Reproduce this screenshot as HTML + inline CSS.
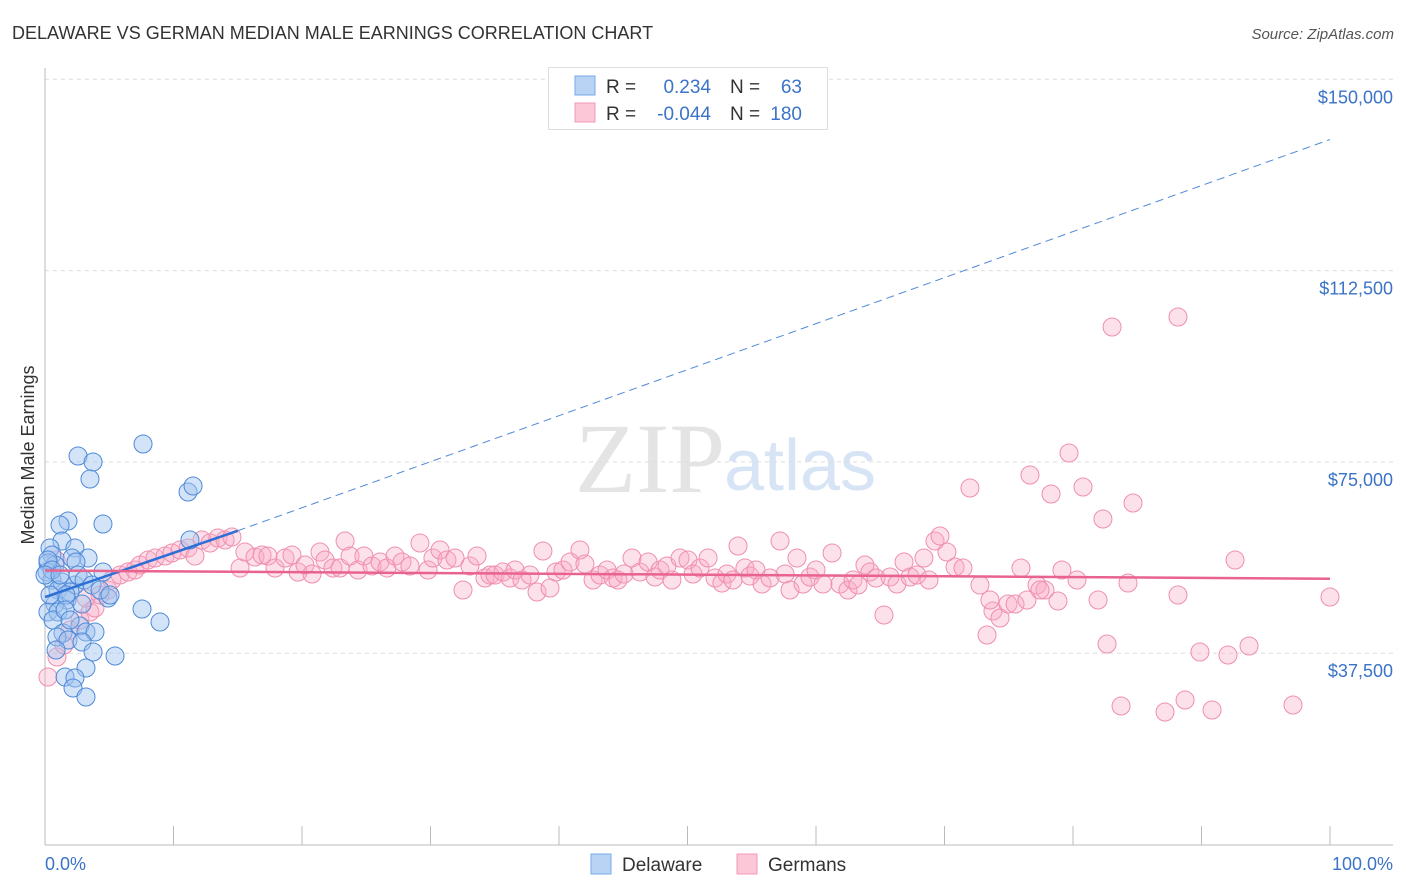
<!DOCTYPE html>
<html><head><meta charset="utf-8"><style>
body{margin:0;background:#fff;font-family:"Liberation Sans",sans-serif;}
svg{display:block}
</style></head><body>
<svg id="chart" width="1406" height="892" xmlns="http://www.w3.org/2000/svg">
<text x="12" y="39" font-size="18" fill="#333">DELAWARE VS GERMAN MEDIAN MALE EARNINGS CORRELATION CHART</text>
<text x="1394" y="39" font-size="15" fill="#555" font-style="italic" text-anchor="end">Source: ZipAtlas.com</text>
<text x="650" y="492" font-size="100" fill="#e4e4e4" font-family="Liberation Serif,serif" text-anchor="middle">ZIP</text>
<text x="800" y="490" font-size="72" fill="#d6e4f5" text-anchor="middle">atlas</text>
<g id="grid"></g>
<g id="axes"></g>
<g id="pts"></g>
<g id="trends"></g>
<text transform="translate(34,455) rotate(-90)" font-size="18" fill="#333" text-anchor="middle">Median Male Earnings</text>
<text x="45" y="870" font-size="18" fill="#3b73c8">0.0%</text>
<text x="1393" y="870" font-size="18" fill="#3b73c8" text-anchor="end">100.0%</text>
<g>
<rect x="548.5" y="67.5" width="279" height="62" fill="#fff" stroke="#ddd"/>
<rect x="575" y="76" width="20" height="19" fill="#b9d3f5" stroke="#7aaae8"/>
<rect x="575" y="103" width="20" height="19" fill="#fcc7d6" stroke="#f09ab5"/>
<text x="606" y="93" font-size="19" fill="#333">R =</text>
<text x="711" y="93" font-size="19" fill="#3b73c8" text-anchor="end">0.234</text>
<text x="730" y="93" font-size="19" fill="#333">N =</text>
<text x="802" y="93" font-size="19" fill="#3b73c8" text-anchor="end">63</text>
<text x="606" y="120" font-size="19" fill="#333">R =</text>
<text x="711" y="120" font-size="19" fill="#3b73c8" text-anchor="end">-0.044</text>
<text x="730" y="120" font-size="19" fill="#333">N =</text>
<text x="802" y="120" font-size="19" fill="#3b73c8" text-anchor="end">180</text>
</g>
<g>
<rect x="591" y="854" width="20" height="20" fill="#b9d3f5" stroke="#7aaae8"/>
<text x="622" y="871" font-size="19" fill="#333">Delaware</text>
<rect x="737" y="854" width="20" height="20" fill="#fcc7d6" stroke="#f09ab5"/>
<text x="768" y="871" font-size="19" fill="#333">Germans</text>
</g>
</svg>
<script>
const yTicks=[37500,75000,112500,150000];
const yTickLabels=["$37,500","$75,000","$112,500","$150,000"];
const xTicks=[0,10,20,30,40,50,60,70,80,90,100];
const bluePx=[[78,456],[93,462],[90,479],[143,444],[68,521],[103,524],[188,492],[193,486],[190,540],[60,525],[62,541],[75,548],[50,548],[52,555],[88,558],[72,558],[76,562],[55,565],[48,563],[47,572],[103,572],[52,580],[62,582],[75,585],[58,590],[70,592],[67,600],[55,604],[82,604],[108,598],[48,612],[58,612],[53,620],[142,609],[160,622],[80,626],[63,633],[86,632],[95,632],[57,637],[68,640],[82,642],[93,652],[115,656],[86,668],[65,677],[75,678],[73,688],[86,697],[48,560],[52,570],[66,595],[78,575],[45,575],[50,595],[60,575],[84,580],[92,585],[100,590],[65,610],[70,620],[56,650],[110,595]];
const pinkPx=[[48,677],[57,657],[64,645],[70,630],[80,620],[90,612],[95,608],[86,598],[100,595],[108,590],[112,580],[120,575],[128,572],[135,570],[140,565],[148,560],[155,558],[165,556],[172,553],[180,550],[188,548],[195,556],[202,540],[210,543],[218,538],[225,540],[232,537],[240,568],[245,552],[255,557],[262,555],[268,556],[275,568],[285,558],[292,555],[298,572],[305,565],[312,574],[320,552],[325,560],[333,568],[340,568],[345,541],[350,556],[358,570],[364,556],[372,566],[380,562],[387,568],[395,556],[402,562],[410,566],[420,543],[428,570],[433,558],[440,550],[447,560],[455,558],[463,590],[470,566],[477,556],[485,578],[490,575],[495,575],[503,572],[510,578],[515,570],[522,580],[530,575],[537,592],[543,551],[550,588],[556,572],[563,570],[570,562],[580,550],[585,564],[593,580],[600,575],[607,570],[613,578],[618,580],[624,574],[632,558],[640,572],[648,562],[655,577],[660,570],[667,566],[672,580],[680,558],[688,560],[693,574],[700,568],[708,558],[715,578],[722,583],[727,574],[733,580],[738,546],[745,568],[750,576],[756,570],[762,584],[770,578],[780,541],[785,574],[790,590],[797,558],[803,584],[810,577],[816,570],[823,584],[832,553],[840,584],[848,590],[853,580],[858,585],[865,565],[870,572],[876,578],[884,615],[890,577],[897,584],[904,562],[910,577],[917,575],[924,558],[929,580],[935,541],[940,536],[947,552],[955,567],[963,568],[970,488],[980,585],[987,635],[993,611],[1000,618],[1008,604],[1015,604],[1021,568],[1027,600],[1030,475],[1037,585],[1045,590],[1051,494],[1058,601],[1062,570],[1069,453],[1077,580],[1083,487],[1098,600],[1103,519],[1107,644],[1112,327],[1121,706],[1128,583],[1133,503],[1165,712],[1178,317],[1178,595],[1185,700],[1200,652],[1212,710],[1228,655],[1235,560],[1249,646],[1293,705],[1330,597],[1040,590],[990,600],[56,560]];
// convert estimated positions to data values (percent, dollars)
const blueX=bluePx.map(p=>+((p[0]-45)/12.85).toFixed(2));
const blueY=bluePx.map(p=>Math.round((844.5-p[1])*196.03));
const pinkX=pinkPx.map(p=>+((p[0]-45)/12.85).toFixed(2));
const pinkY=pinkPx.map(p=>Math.round((844.5-p[1])*196.03));
const blueTrend=[[0,48500],[15,61500],[100,138200]];
const pinkTrend=[[0,53700],[100,52100]];

const X=v=>45+v*12.85;
const Y=v=>844.5-v/196.03;
const NS="http://www.w3.org/2000/svg";
function mk(tag,attrs,parent){const e=document.createElementNS(NS,tag);for(const k in attrs)e.setAttribute(k,attrs[k]);parent.appendChild(e);return e;}
const grid=document.getElementById('grid'),axes=document.getElementById('axes'),pts=document.getElementById('pts'),tr=document.getElementById('trends');
yTicks.forEach((t,i)=>{
 const l=mk('line',{x1:45,x2:1393,y1:Y(t),y2:Y(t),stroke:'#ddd','stroke-dasharray':'4,4'},grid);
 
 
 const tx=mk('text',{x:1393,y:Y(t)+24,'font-size':18,fill:'#3b73c8','text-anchor':'end'},grid);
 tx.textContent=yTickLabels[i];
 
 
});
const ax=mk('line',{x1:45,x2:45,y1:68,y2:845,stroke:'#bbb'},axes);


const bx=mk('line',{x1:45,x2:1393,y1:845,y2:845,stroke:'#bbb'},axes);


xTicks.forEach(t=>{
 const l=mk('line',{x1:X(t),x2:X(t),y1:826,y2:845,stroke:'#bbb'},axes);
 
 
});
pinkX.forEach((x,i)=>{
 const c=mk('circle',{cx:X(x),cy:Y(pinkY[i]),r:9,fill:'rgba(248,170,195,0.35)',stroke:'#ef8fb0','stroke-width':1},pts);
 
 
});
blueX.forEach((x,i)=>{
 const c=mk('circle',{cx:X(x),cy:Y(blueY[i]),r:9,fill:'rgba(160,196,240,0.45)',stroke:'#4f8ad8','stroke-width':1},pts);
 
 
});
const b1=mk('line',{x1:X(blueTrend[0][0]),y1:Y(blueTrend[0][1]),x2:X(blueTrend[1][0]),y2:Y(blueTrend[1][1]),stroke:'#2e6fd6','stroke-width':2.5},tr);


const b2=mk('line',{x1:X(blueTrend[1][0]),y1:Y(blueTrend[1][1]),x2:X(blueTrend[2][0]),y2:Y(blueTrend[2][1]),stroke:'#4f8ad8','stroke-width':1,'stroke-dasharray':'8,5'},tr);


const p1=mk('line',{x1:X(pinkTrend[0][0]),y1:Y(pinkTrend[0][1]),x2:X(pinkTrend[1][0]),y2:Y(pinkTrend[1][1]),stroke:'#e8648e','stroke-width':2.5},tr);


</script>
</body></html>
